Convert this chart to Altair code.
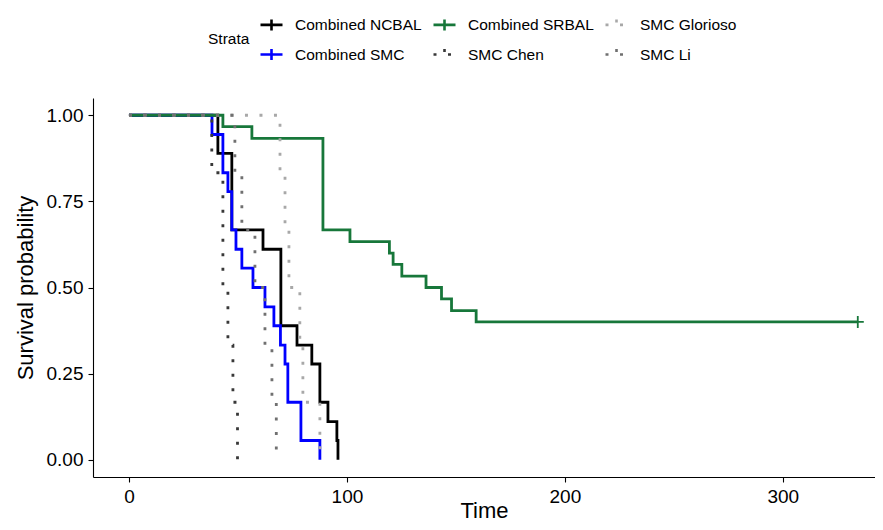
import altair as alt
import pandas as pd

# ---- data ----
strata_order = ["Combined NCBAL", "Combined SRBAL", "SMC Glorioso",
                "Combined SMC", "SMC Chen", "SMC Li"]
strata_colors = ["#000000", "#17773a", "#a8a8a8", "#0000ff", "#383838", "#707070"]
strata_solid = [True, True, False, True, False, False]
draw_order = ["Combined NCBAL", "Combined SMC", "Combined SRBAL",
              "SMC Chen", "SMC Glorioso", "SMC Li"]

ncbal_time = [0, 40.8, 47.2, 61.5, 69.7, 77.1, 83.9, 87.6, 91.3, 95.4, 95.9]
ncbal_surv = [1.0, 0.889, 0.667, 0.611, 0.389, 0.333, 0.278, 0.167, 0.111, 0.056, 0.0]

srbal_time = [0, 43.1, 56.4, 89.0, 101.4, 119.5, 121.2, 125.2, 136.3, 143.4, 148.0, 159.3, 334.4]
srbal_surv = [1.0, 0.967, 0.933, 0.667, 0.633, 0.600, 0.567, 0.533, 0.500, 0.467, 0.433, 0.400, 0.400]

smc_time = [0, 38.1, 43.1, 45.4, 47.2, 49.1, 51.8, 56.9, 62.4, 66.5, 69.5, 71.6, 72.9, 78.9, 87.6]
smc_surv = [1.0, 0.944, 0.833, 0.778, 0.667, 0.611, 0.556, 0.500, 0.444, 0.389, 0.333, 0.278, 0.167, 0.056, 0.0]

chen_time = [0, 38.0, 43.1, 45.4, 47.7, 49.8]
chen_surv = [1.0, 0.833, 0.500, 0.333, 0.167, 0.0]

li_time = [0, 48.6, 51.8, 57.8, 62.4, 65.6, 67.6]
li_surv = [1.0, 0.833, 0.667, 0.500, 0.333, 0.167, 0.0]

glorioso_time = [0, 69.3, 71.6, 73.4, 78.4, 79.8, 87.6]
glorioso_surv = [1.0, 0.833, 0.667, 0.500, 0.333, 0.167, 0.0]

censor_time = [334.4]
censor_surv = [0.400]

x_ticks = [0, 100, 200, 300]
y_ticks = [0, 0.25, 0.5, 0.75, 1.0]

# ---- table ----
series = {
    "Combined NCBAL": (ncbal_time, ncbal_surv),
    "Combined SRBAL": (srbal_time, srbal_surv),
    "SMC Glorioso": (glorioso_time, glorioso_surv),
    "Combined SMC": (smc_time, smc_surv),
    "SMC Chen": (chen_time, chen_surv),
    "SMC Li": (li_time, li_surv),
}
rows = []
for name, (ts, ss) in series.items():
    for t, s in zip(ts, ss):
        rows.append({"strata": name, "time": t, "surv": s})
df = pd.DataFrame(rows)
censor_df = pd.DataFrame({"time": censor_time, "surv": censor_surv})

FONT = "Liberation Sans"
dash_range = [[1, 0] if s else [3, 11.5] for s in strata_solid]

legend = alt.Legend(
    title="Strata", orient="none", legendX=115, legendY=-86,
    columns=3, direction="horizontal",
    symbolType="M-1,0H1M0,-0.5V0.5", symbolSize=484, symbolStrokeWidth=2.6,
    labelOffset=11, columnPadding=6, rowPadding=6,
    titleOrient="left", titleAnchor="middle", titleBaseline="middle", titlePadding=9,
    padding=0,
)

xenc = alt.X("time:Q", scale=alt.Scale(domain=[-16.5, 342.3], nice=False, zero=False),
             axis=alt.Axis(values=x_ticks, title="Time", titleBaseline="alphabetic", titleY=40))
yenc = alt.Y("surv:Q", scale=alt.Scale(domain=[-0.05, 1.05], nice=False, zero=False),
             axis=alt.Axis(values=y_ticks, format=".2f", title="Survival probability", titlePadding=9))
cenc = alt.Color("strata:N", scale=alt.Scale(domain=strata_order, range=strata_colors), legend=legend)
denc = alt.StrokeDash("strata:N", scale=alt.Scale(domain=strata_order, range=dash_range), legend=legend)

base = alt.Chart(df).mark_line(interpolate="step-after", strokeWidth=2.8, strokeCap="butt")

layers = [
    base.transform_filter(alt.datum.strata == name).encode(x=xenc, y=yenc, color=cenc, strokeDash=denc)
    for name in draw_order
]

censor = alt.Chart(censor_df).mark_point(
    shape="M-1,0H1M0,-1V1", size=144, filled=False, strokeWidth=1.8, opacity=1
).encode(x="time:Q", y="surv:Q", color=alt.value("#17773a"))

chart = alt.layer(*layers, censor).properties(
    width=782, height=379,
    autosize=alt.AutoSizeParams(type="none"),
    padding={"left": 85, "top": 90, "right": 0, "bottom": 45},
).configure_view(stroke=None).configure_axis(
    grid=False, domainColor="black", domainWidth=1.1, tickColor="black", tickWidth=1.1,
    tickSize=5, labelColor="black", labelFont=FONT, labelFontSize=19, labelPadding=5,
    titleFont=FONT, titleFontSize=22, titleFontWeight="normal", titleColor="black",
).configure_legend(
    labelFont=FONT, labelFontSize=15.5, labelColor="black",
    titleFont=FONT, titleFontSize=15.5, titleFontWeight="normal", titleColor="black",
)

chart.save("out.html", embed_options={"renderer": "svg", "actions": False})
